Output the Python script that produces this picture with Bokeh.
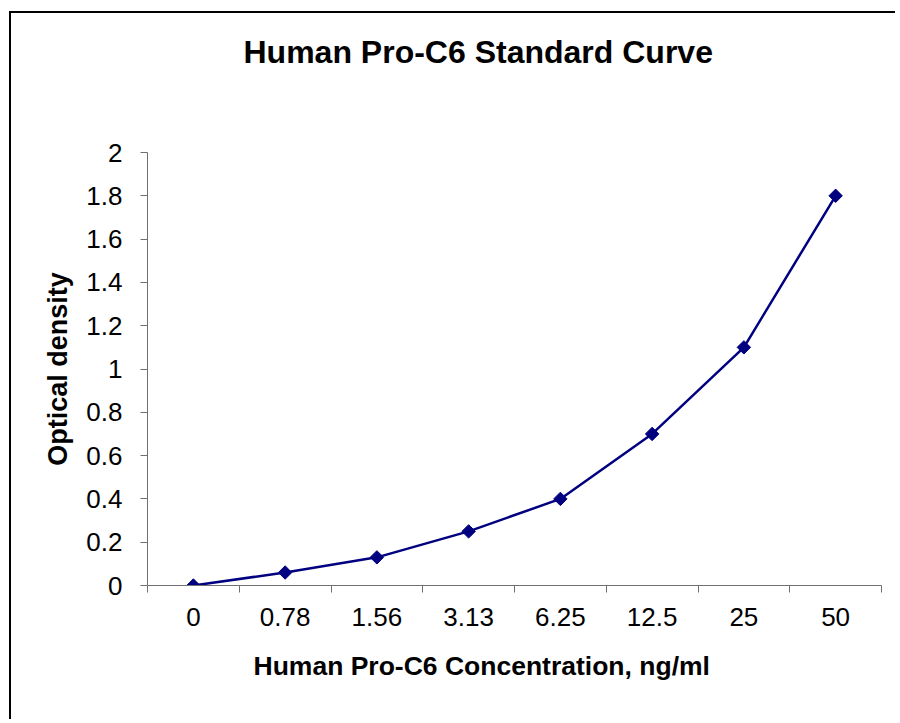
from bokeh.plotting import figure
from bokeh.models import Range1d, FixedTicker, Title, ColumnDataSource
from bokeh.embed import file_html
from bokeh.resources import INLINE
import math

title_text = "Human Pro-C6 Standard Curve"
x_title = "Human Pro-C6 Concentration, ng/ml"
y_title = "Optical density"
categories = ["0", "0.78", "1.56", "3.13", "6.25", "12.5", "25", "50"]
od_values = [0.0, 0.06, 0.13, 0.25, 0.40, 0.70, 1.10, 1.80]
y_ticks = [0, 0.2, 0.4, 0.6, 0.8, 1.0, 1.2, 1.4, 1.6, 1.8, 2.0]
y_tick_labels = ["0", "0.2", "0.4", "0.6", "0.8", "1", "1.2", "1.4", "1.6", "1.8", "2"]

FONT = "Liberation Sans"
AX = "#707070"

n = len(categories)
xs = [i + 0.5 for i in range(n)]
src = ColumnDataSource(data=dict(x=xs, y=od_values, cat=categories))

p = figure(width=886, height=708, output_backend="svg", toolbar_location=None,
           x_range=Range1d(0, n), y_range=Range1d(0, 2),
           min_border_left=136, min_border_right=16, min_border_top=139, min_border_bottom=136)
p.styles = {"border-top": "2px solid black", "border-left": "2px solid black",
            "margin-top": "11px", "margin-left": "9px"}
p.background_fill_color = "white"
p.border_fill_color = "white"
p.outline_line_color = None
p.grid.visible = False

# the title (outermost) and a blank spacer between it and the plot area
p.title = Title(text=title_text, align="left", offset=96, standoff=10,
                text_font=FONT, text_font_size="32px", text_font_style="bold",
                text_color="black")
p.add_layout(Title(text=" ", standoff=65, text_font=FONT, text_font_size="10px"), "above")

# x axis: labels at category centres, tick marks at category boundaries
xa = p.xaxis[0]
xa.ticker = FixedTicker(ticks=xs, minor_ticks=list(range(n + 1)))
xa.major_label_overrides = {x: c for x, c in zip(xs, categories)}
xa.major_tick_out = 0
xa.major_tick_in = 0
xa.minor_tick_out = 7
xa.minor_tick_in = 0
xa.minor_tick_line_color = AX
xa.axis_line_color = AX
xa.major_label_standoff = 15
xa.major_label_text_font = FONT
xa.major_label_text_font_size = "26px"
xa.major_label_text_color = "black"

p.add_layout(Title(text=x_title, align="left", offset=106, standoff=40,
                   text_font=FONT, text_font_size="26.5px", text_font_style="bold",
                   text_color="black"), "below")

ya = p.yaxis[0]
ya.ticker = FixedTicker(ticks=y_ticks, minor_ticks=[])
ya.major_label_overrides = {t: l for t, l in zip(y_ticks, y_tick_labels)}
ya.major_tick_out = 7
ya.major_tick_in = 0
ya.major_tick_line_color = AX
ya.axis_line_color = AX
ya.major_label_standoff = 18
ya.major_label_text_font = FONT
ya.major_label_text_font_size = "26px"
ya.major_label_text_color = "black"
ya.axis_label = y_title
ya.axis_label_text_font = FONT
ya.axis_label_text_font_size = "27px"
ya.axis_label_text_font_style = "bold"
ya.axis_label_text_color = "black"
ya.axis_label_standoff = 10

p.line("x", "y", source=src, line_color="#000080", line_width=2.5)
p.scatter("x", "y", source=src, marker="square", angle=math.pi / 4, size=9.5,
          fill_color="#000080", line_color="#000080")

open("out.html", "w").write(file_html(p, INLINE))
